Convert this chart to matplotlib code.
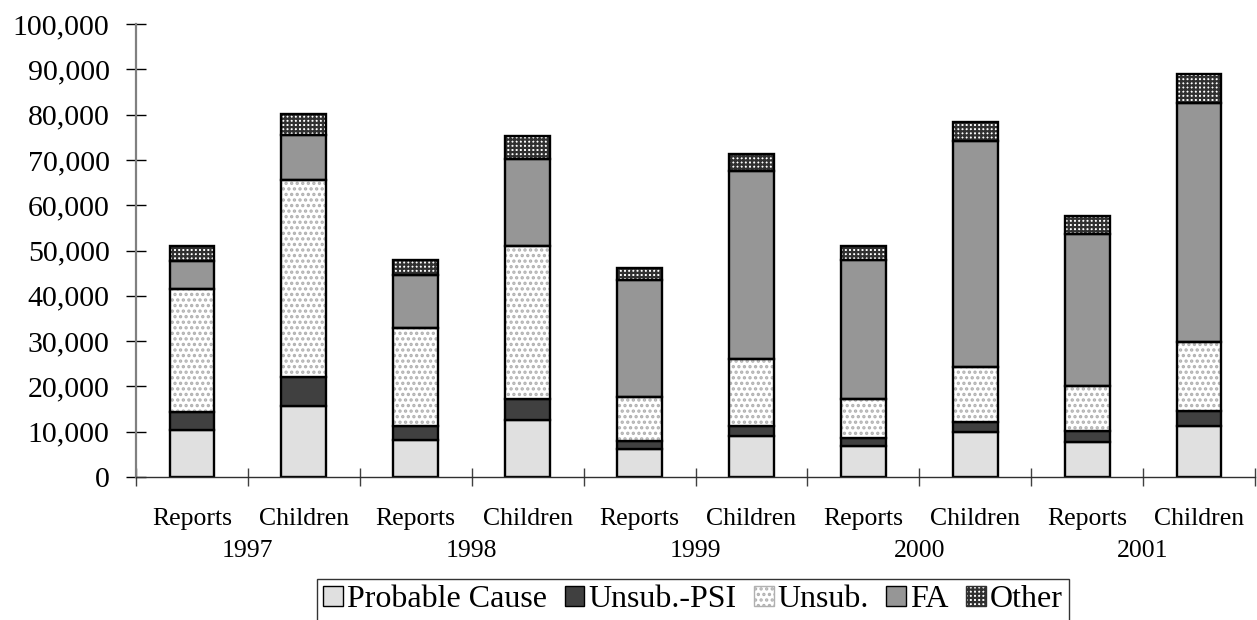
import numpy as np
import matplotlib
matplotlib.use("Agg")
import matplotlib.pyplot as plt
from matplotlib.patches import Patch
from matplotlib.ticker import FuncFormatter, MultipleLocator

plt.rcParams['font.family'] = ['Liberation Serif', 'DejaVu Serif']
plt.rcParams['hatch.linewidth'] = 1.6

# datos
years = ['1997', '1998', '1999', '2000', '2001']
kinds = ['Reports', 'Children']
probable_cause = [10400, 15700, 8200, 12600, 6100, 9000, 6800, 10000, 7800, 11300]
unsub_psi = [4000, 6300, 3100, 4600, 1800, 2300, 1900, 2200, 2400, 3300]
unsub = [27200, 43600, 21700, 33900, 9800, 14700, 8500, 12000, 10000, 15300]
fa = [6200, 10000, 11700, 19200, 25800, 41600, 30700, 50000, 33400, 52700]
other = [3300, 4500, 3200, 5000, 2700, 3800, 3200, 4200, 4100, 6300]

labels = [k for y in years for k in kinds]
x = np.arange(len(labels))
w = 0.40
lw = 1.7
dots = '#b0b0b0'

fig = plt.figure(figsize=(12.57, 6.2), dpi=100)
ax = fig.add_axes([136 / 1257, 0.2306, 1119 / 1257, 0.7306])

b0 = np.zeros(len(x))
ax.bar(x, probable_cause, w, bottom=b0, color='#e0e0e0', edgecolor='black', linewidth=lw, zorder=2)
b1 = b0 + probable_cause
ax.bar(x, unsub_psi, w, bottom=b1, color='#404040', edgecolor='black', linewidth=lw, zorder=2)
b2 = b1 + unsub_psi
# patron de puntos gris
ax.bar(x, unsub, w, bottom=b2, color='white', edgecolor=dots, hatch='...', linewidth=0, zorder=2)
ax.bar(x, unsub, w, bottom=b2, fill=False, edgecolor='black', linewidth=lw, zorder=3)
b3 = b2 + unsub
ax.bar(x, fa, w, bottom=b3, color='#969696', edgecolor='black', linewidth=lw, zorder=2)
b4 = b3 + fa
ax.bar(x, other, w, bottom=b4, color='white', edgecolor='#303030', hatch='++++', linewidth=0, zorder=2)
ax.bar(x, other, w, bottom=b4, fill=False, edgecolor='black', linewidth=lw, zorder=3)

ax.set_ylim(0, 100000)
ax.set_xlim(-0.5, len(x) - 0.5)
ax.yaxis.set_major_locator(MultipleLocator(10000))
ax.yaxis.set_major_formatter(FuncFormatter(lambda v, p: f'{int(v):,}'))

for s in ['top', 'right']:
    ax.spines[s].set_visible(False)
ax.spines['left'].set_color('#808080')
ax.spines['left'].set_linewidth(1.6)
ax.spines['bottom'].set_color('#303030')
ax.spines['bottom'].set_linewidth(1.0)

ax.tick_params(axis='y', direction='inout', length=14, width=1, labelsize=21.5, pad=12, color='black')
ax.set_xticks(x)
ax.set_xticklabels(labels)
ax.tick_params(axis='x', which='major', length=0, labelsize=18.5, pad=22)
ax.set_xticks(np.arange(len(x) + 1) - 0.5, minor=True)
ax.tick_params(axis='x', which='minor', direction='inout', length=13, width=1, color='#404040')

for i, yr in enumerate(years):
    ax.text(2 * i + 0.5, -0.163, yr, transform=ax.get_xaxis_transform(),
            ha='center', va='center', fontsize=18.5)

handles = [
    Patch(facecolor='#e0e0e0', edgecolor='black', label='Probable Cause'),
    Patch(facecolor='#404040', edgecolor='black', label='Unsub.-PSI'),
    Patch(facecolor='white', edgecolor=dots, hatch='...', label='Unsub.'),
    Patch(facecolor='#969696', edgecolor='black', label='FA'),
    Patch(facecolor='white', edgecolor='#303030', hatch='++++', label='Other'),
]
leg = fig.legend(handles=handles, loc='upper center', bbox_to_anchor=(693 / 1257, 41 / 620),
                 ncol=5, fontsize=23, frameon=True, fancybox=False, shadow=False,
                 handlelength=0.62, handleheight=0.62, handletextpad=0.12, columnspacing=0.55,
                 borderpad=0.2, borderaxespad=0)
leg.get_frame().set_edgecolor('black')
leg.get_frame().set_linewidth(1.0)

fig.savefig('out.png', dpi=100)
